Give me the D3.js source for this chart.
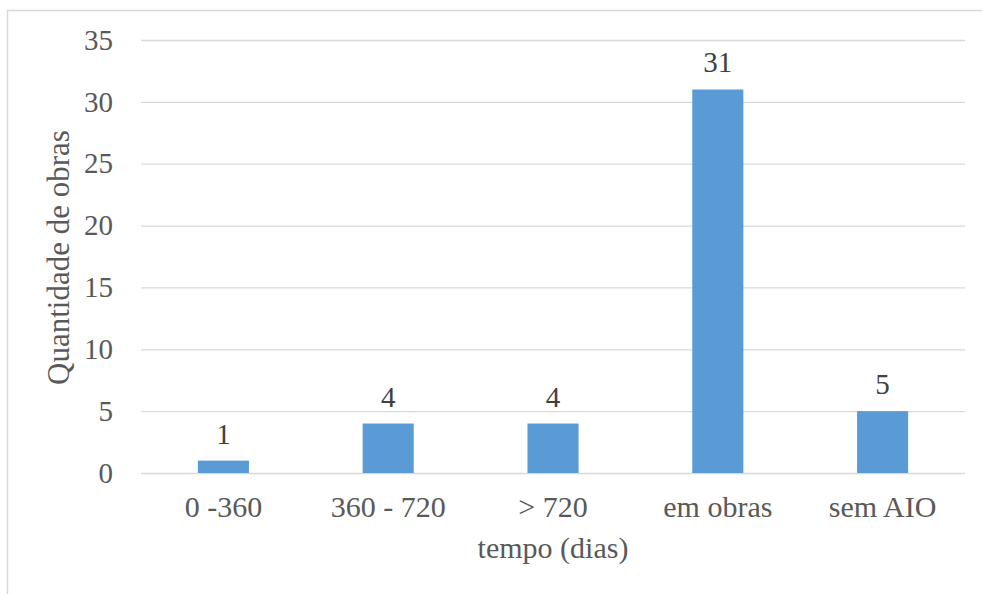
<!DOCTYPE html>
<html><head><meta charset="utf-8">
<script src="https://cdn.jsdelivr.net/npm/d3@7"></script>
</head><body style="margin:0">
<svg id="c" width="982" height="594" style="font-family:'Liberation Serif'"></svg>
<script>
const categories = ["0 -360", "360 - 720", "> 720", "em obras", "sem AIO"];
const values = [1, 4, 4, 31, 5];
const yTicks = [0, 5, 10, 15, 20, 25, 30, 35];
const xTitle = "tempo (dias)";
const yTitle = "Quantidade de obras";

(function () {
const svg = d3.select("#c");
const font = "Liberation Serif";
const mLeft = 141, mRight = 965, mTop = 40, mBottom = 473;

svg.append("rect").attr("x", 7.5).attr("y", 10.5).attr("width", 990).attr("height", 600)
  .attr("fill", "none").attr("stroke", "#d9d9d9").attr("stroke-width", 1.5);

const x = d3.scaleBand().domain(categories).range([mLeft, mRight]).paddingInner(0.69).paddingOuter(0.345);
const y = d3.scaleLinear().domain([0, 35]).range([mBottom, mTop]);

const gy = svg.append("g").attr("transform", `translate(${mLeft},0)`)
  .call(d3.axisLeft(y).tickValues(yTicks).tickSize(-(mRight - mLeft)).tickPadding(28).tickFormat(d3.format("d")));
gy.attr("font-family", null).attr("font-size", null);
gy.select(".domain").remove();
gy.selectAll(".tick line").attr("stroke", "#d9d9d9").attr("stroke-width", 1.3);
gy.selectAll(".tick text").attr("fill", "#595959").attr("font-family", font).attr("font-size", 29);

svg.append("g").selectAll("rect").data(values).join("rect")
  .attr("x", (d, i) => x(categories[i])).attr("width", x.bandwidth())
  .attr("y", d => y(d)).attr("height", d => y(0) - y(d)).attr("fill", "#5b9bd5");

svg.append("g").selectAll("text").data(values).join("text")
  .attr("x", (d, i) => x(categories[i]) + x.bandwidth() / 2).attr("y", d => y(d) - 17)
  .attr("text-anchor", "middle").attr("fill", "#404040")
  .attr("font-family", font).attr("font-size", 29).text(d => d);

const gx = svg.append("g").attr("transform", `translate(0,${mBottom})`)
  .call(d3.axisBottom(x).tickSize(0).tickPadding(23));
gx.attr("font-family", null).attr("font-size", null);
gx.select(".domain").remove();
gx.selectAll(".tick text").attr("fill", "#595959").attr("font-family", font).attr("font-size", 30);

svg.append("text").attr("x", (mLeft + mRight) / 2).attr("y", 558).attr("text-anchor", "middle")
  .attr("font-family", font).attr("font-size", 30)
  .attr("fill", "#595959").text(xTitle);

svg.append("text").attr("transform", `translate(69,${(mTop + mBottom) / 2 + 1}) rotate(-90)`)
  .attr("text-anchor", "middle").attr("fill", "#595959")
  .attr("font-family", font).attr("font-size", 31).text(yTitle);
})();
</script>
</body></html>
